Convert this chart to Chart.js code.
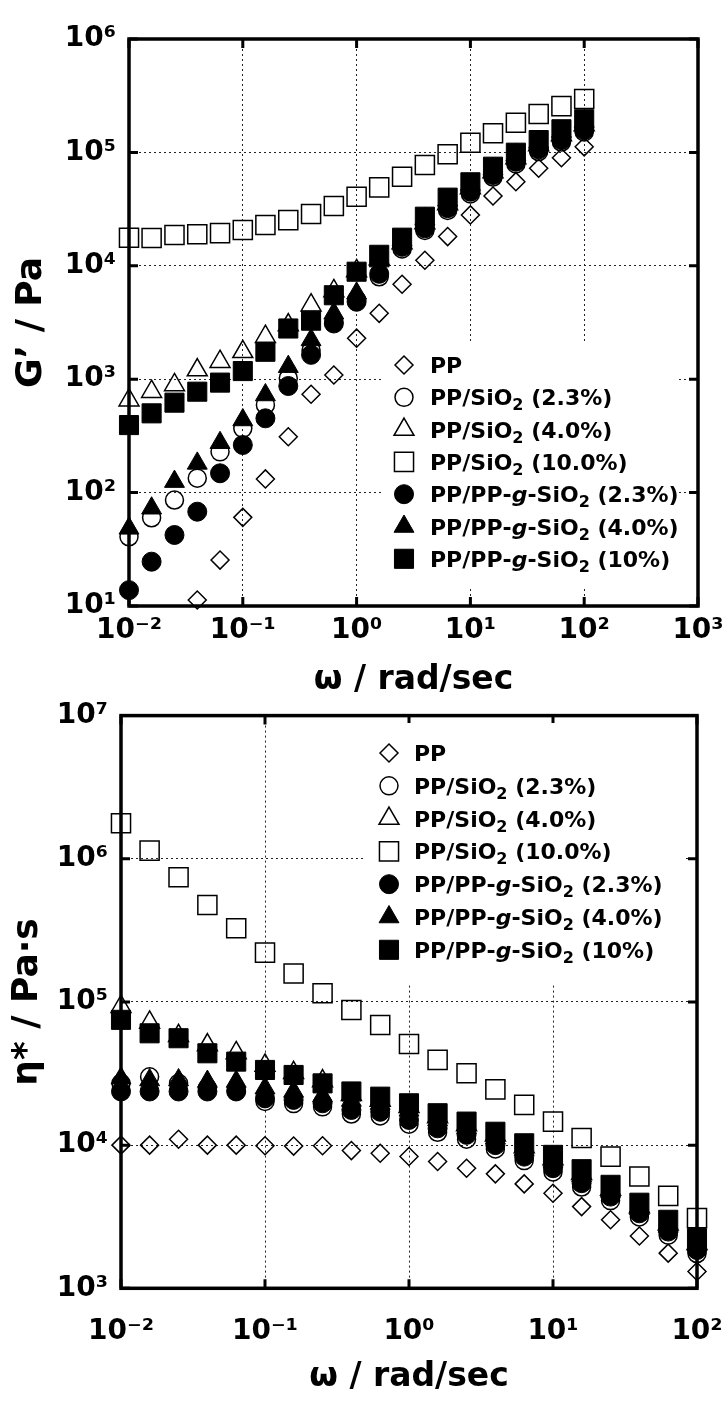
<!DOCTYPE html>
<html><head><meta charset="utf-8">
<script src="https://cdn.jsdelivr.net/npm/chart.js@4.4.1/dist/chart.umd.min.js"></script>
<style>
html,body{margin:0;padding:0;background:#fff;}
body{width:726px;height:1401px;position:relative;overflow:hidden;}
canvas{position:absolute;left:0;}
#c1{top:0;} #c2{top:690px;}
</style></head><body>
<canvas id="c1" width="726" height="700"></canvas>
<canvas id="c2" width="726" height="711"></canvas>
<script>
// ---------- data ----------
const omega = [0.01, 0.0158, 0.0251, 0.0398, 0.0631, 0.1, 0.158, 0.251, 0.398, 0.631, 1, 1.58, 2.51, 3.98, 6.31, 10, 15.8, 25.1, 39.8, 63.1, 100];
const seriesLabels = ['PP', 'PP/SiO2 (2.3%)', 'PP/SiO2 (4.0%)', 'PP/SiO2 (10.0%)', 'PP/PP-g-SiO2 (2.3%)', 'PP/PP-g-SiO2 (4.0%)', 'PP/PP-g-SiO2 (10%)'];

// storage modulus G' (Pa)
const gPP    = [null, null, null, 11.3, 25.4, 60.5, 132, 311, 736, 1090, 2300, 3810, 6870, 11200, 18100, 28100, 41300, 55200, 72400, 89800, 112000];
const gSi23  = [40.8, 60, 86, 134, 229, 369, 593, 1020, 1800, 3200, 5000, 8000, 14100, 20500, 30800, 43000, 60700, 79100, 101800, 123500, 151400];
const gSi40  = [653, 776, 889, 1205, 1426, 1746, 2370, 3000, 4500, 6000, 9000, 11500, 15900, 23800, 35100, 48500, 67200, 89200, 116200, 142100, 174600];
const gSi100 = [17700, 17600, 18700, 19000, 19400, 20700, 22900, 25300, 28600, 33700, 40600, 49200, 61000, 77400, 96200, 121800, 147300, 182700, 218000, 256000, 296000];
const gG23   = [13.8, 24.6, 42.3, 67.9, 148, 263, 452, 871, 1640, 3100, 4820, 8500, 14700, 21400, 32200, 45000, 63200, 82800, 106400, 128500, 157700];
const gG40   = [48.4, 72.8, 125, 181, 275, 437, 726, 1290, 2220, 3810, 5720, 11000, 16900, 25900, 38000, 52100, 71400, 94900, 123500, 152800, 187200];
const gG100  = [394, 500, 621, 776, 933, 1180, 1746, 2800, 3280, 5500, 8870, 12500, 17700, 27100, 39900, 54500, 74800, 99400, 128500, 160000, 195900];

// complex viscosity eta* (Pa.s)
const ePP    = [10000, 10000, 11000, 10000, 10000, 9890, 9850, 9890, 9160, 8780, 8320, 7680, 6900, 6300, 5360, 4610, 3720, 3010, 2320, 1760, 1310];
const eSi23  = [27000, 30000, 27000, 25000, 24000, 20200, 19500, 18500, 16500, 16000, 14000, 12300, 11000, 9400, 7800, 6500, 5100, 4100, 3150, 2350, 1750];
const eSi40  = [92700, 72000, 58000, 50000, 44000, 36000, 32000, 28000, 22500, 20500, 18500, 15700, 13800, 11700, 9700, 8000, 6300, 4900, 3700, 2800, 2050];
const eSi100 = [1770000, 1140000, 743000, 475000, 327000, 221000, 158000, 115000, 87900, 69000, 50900, 39400, 31800, 24500, 19100, 14600, 11200, 8310, 6030, 4420, 3090];
const eG23   = [23700, 23700, 23700, 23700, 23700, 21200, 20700, 19600, 17600, 17100, 15000, 13100, 11800, 10000, 8310, 6900, 5420, 4370, 3340, 2490, 1850];
const eG40   = [29300, 28500, 28500, 27800, 27800, 25000, 23700, 22000, 20500, 19500, 17500, 15000, 13200, 11200, 9300, 7700, 6100, 4750, 3600, 2700, 2000];
const eG100  = [75000, 60400, 55800, 43800, 38300, 33500, 30900, 27000, 23700, 21800, 19600, 16700, 14600, 12400, 10300, 8550, 6790, 5280, 3960, 3010, 2240];

// ticks
const topXTicks  = [0.01, 0.1, 1, 10, 100, 1000];
const topXLabels = ['10⁻²', '10⁻¹', '10⁰', '10¹', '10²', '10³'];
const topYTicks  = [10, 100, 1000, 1e4, 1e5, 1e6];
const topYLabels = ['10¹', '10²', '10³', '10⁴', '10⁵', '10⁶'];
const botXTicks  = [0.01, 0.1, 1, 10, 100];
const botXLabels = ['10⁻²', '10⁻¹', '10⁰', '10¹', '10²'];
const botYTicks  = [1e3, 1e4, 1e5, 1e6, 1e7];
const botYLabels = ['10³', '10⁴', '10⁵', '10⁶', '10⁷'];

// ---------- styles ----------
const FONT = '"DejaVu Sans", "Liberation Sans", sans-serif';
const markerStyles = [
  {pointStyle: 'rectRot',  radius: 9,    filled: false},
  {pointStyle: 'circle',   radius: 9,    filled: false},
  {pointStyle: 'triangle', radius: 11.5, filled: false},
  {pointStyle: 'rect',     radius: 13.5, filled: false},
  {pointStyle: 'circle',   radius: 9.5,  filled: true},
  {pointStyle: 'triangle', radius: 11.5, filled: true},
  {pointStyle: 'rect',     radius: 13.5, filled: true}
];

function makeDatasets(list) {
  return list.map((vals, i) => {
    const m = markerStyles[i];
    return {
      label: seriesLabels[i],
      data: omega.map((x, j) => ({x: x, y: vals[j]})).filter(p => p.y !== null),
      showLine: false,
      pointStyle: m.pointStyle,
      pointRadius: m.radius,
      pointHoverRadius: m.radius,
      pointBackgroundColor: m.filled ? '#000' : 'rgba(0,0,0,0)',
      pointBorderColor: '#000',
      pointBorderWidth: m.filled ? 1 : 1.5,
      clip: false,
      order: m.filled ? 1 : 2
    };
  });
}

function logScale(pos, ticks, labels, min, max, size, tickPad, title, titleSize, titlePad) {
  return {
    type: 'logarithmic', position: pos, min: min, max: max,
    afterBuildTicks: s => { s.ticks = ticks.map(v => ({value: v})); },
    afterFit: s => {
      if (pos === 'bottom') { s.height = size; s.paddingLeft = 0; s.paddingRight = 0; }
      else { s.width = size; s.paddingTop = 0; s.paddingBottom = 0; }
    },
    ticks: {
      callback: (v, i) => labels[i], autoSkip: false, maxRotation: 0, minRotation: 0,
      padding: tickPad, color: '#000', font: {family: FONT, size: 28, weight: 'bold'}
    },
    grid: {color: '#222', lineWidth: 1, drawTicks: false},
    border: {display: false, dash: [2, 3]},
    title: {display: true, text: title, color: '#000',
      font: {family: FONT, size: titleSize, weight: 'bold'}, padding: titlePad}
  };
}

function textRuns(label) {
  const out = []; const re = /SiO2|-g-/g; let last = 0, m;
  while ((m = re.exec(label))) {
    if (m.index > last) out.push({t: label.slice(last, m.index)});
    if (m[0] === 'SiO2') { out.push({t: 'SiO'}); out.push({t: '2', sub: true}); }
    else { out.push({t: '-'}); out.push({t: 'g', it: true}); out.push({t: '-'}); }
    last = re.lastIndex;
  }
  if (last < label.length) out.push({t: label.slice(last)});
  return out;
}

function drawMarker(ctx, m, x, y) {
  ctx.fillStyle = m.filled ? '#000' : 'rgba(0,0,0,0)';
  ctx.strokeStyle = '#000';
  ctx.lineWidth = m.filled ? 1 : 1.5;
  Chart.helpers.drawPoint(ctx, {pointStyle: m.pointStyle, radius: m.radius, rotation: 0, borderWidth: ctx.lineWidth}, x, y);
}

const decor = {
  id: 'decor',
  beforeDatasetsDraw(chart) {
    const {ctx, chartArea: a, scales} = chart;
    ctx.save();
    ctx.strokeStyle = '#000';
    ctx.lineWidth = 3;
    ctx.beginPath();
    scales.x.ticks.forEach(t => {
      const p = scales.x.getPixelForValue(t.value);
      ctx.moveTo(p, a.top); ctx.lineTo(p, a.top + 9);
      ctx.moveTo(p, a.bottom); ctx.lineTo(p, a.bottom - 9);
    });
    scales.y.ticks.forEach(t => {
      const p = scales.y.getPixelForValue(t.value);
      ctx.moveTo(a.left, p); ctx.lineTo(a.left + 9, p);
      ctx.moveTo(a.right, p); ctx.lineTo(a.right - 9, p);
    });
    ctx.stroke();
    ctx.lineWidth = 3.5;
    ctx.strokeRect(a.left, a.top, a.right - a.left, a.bottom - a.top);
    ctx.restore();
  },
  afterDatasetsDraw(chart, args, L) {
    const ctx = chart.ctx;
    ctx.save();
    ctx.fillStyle = '#fff';
    ctx.fillRect(L.box[0], L.box[1], L.box[2] - L.box[0], L.box[3] - L.box[1]);
    chart.data.datasets.forEach((ds, i) => {
      const y = L.y0 + i * L.dy;
      drawMarker(ctx, markerStyles[i], L.mx, y);
      let x = L.tx; const base = y + 8;
      ctx.textAlign = 'left'; ctx.textBaseline = 'alphabetic';
      textRuns(ds.label).forEach(r => {
        ctx.font = (r.it ? 'italic ' : '') + 'bold ' + (r.sub ? 16 : 22) + 'px ' + FONT;
        ctx.fillStyle = '#000';
        ctx.fillText(r.t, x, base + (r.sub ? 5 : 0));
        x += ctx.measureText(r.t).width;
      });
    });
    ctx.restore();
  }
};

const common = {
  responsive: false, devicePixelRatio: 1, animation: false, events: []
};

new Chart(document.getElementById('c1'), {
  type: 'scatter',
  data: {datasets: makeDatasets([gPP, gSi23, gSi40, gSi100, gG23, gG40, gG100])},
  options: Object.assign({}, common, {
    layout: {padding: {left: 0, right: 28, top: 39, bottom: 0}},
    scales: {
      x: logScale('bottom', topXTicks, topXLabels, 0.01, 1000, 94, 8, 'ω / rad/sec', 33, {top: 0, bottom: 0}),
      y: logScale('left', topYTicks, topYLabels, 10, 1e6, 129, 13, 'G’ / Pa', 36, {top: 10, bottom: 0})
    },
    plugins: {
      legend: {display: false}, tooltip: {enabled: false},
      decor: {box: [382, 343, 676, 587], mx: 404, tx: 430, y0: 365, dy: 32.3}
    }
  }),
  plugins: [decor]
});

new Chart(document.getElementById('c2'), {
  type: 'scatter',
  data: {datasets: makeDatasets([ePP, eSi23, eSi40, eSi100, eG23, eG40, eG100])},
  options: Object.assign({}, common, {
    layout: {padding: {left: 0, right: 29, top: 25.6, bottom: 0}},
    scales: {
      x: logScale('bottom', botXTicks, botXLabels, 0.01, 100, 112.7, 27, 'ω / rad/sec', 33, {top: 0, bottom: 4}),
      y: logScale('left', botYTicks, botYLabels, 1e3, 1e7, 121, 13, 'η* / Pa·s', 36, {top: 6, bottom: 0})
    },
    plugins: {
      legend: {display: false}, tooltip: {enabled: false},
      decor: {box: [366, 33, 685, 295], mx: 389, tx: 414, y0: 63, dy: 32.8}
    }
  }),
  plugins: [decor]
});
</script>
</body></html>
